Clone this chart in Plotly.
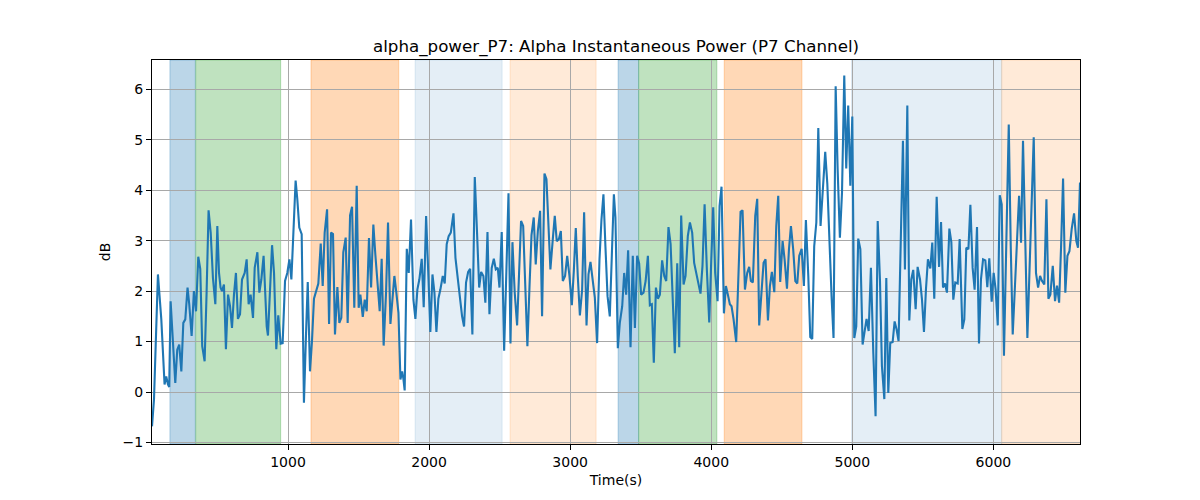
import plotly.graph_objects as go

# Time (s) and alpha power (dB)
time_s = [36, 50, 78, 102, 125, 137, 149, 158, 168, 184, 201, 215, 229, 244, 258, 272, 288, 300, 317, 333,
          348, 364, 378, 392, 409, 423, 437, 452, 468, 485, 499, 511, 522, 532, 546, 560, 575, 589, 603, 617,
          631, 645, 660, 674, 693, 707, 721, 735, 752, 764, 783, 797, 811, 827, 839, 849, 858, 872, 887, 901,
          917, 931, 948, 962, 979, 995, 1010, 1024, 1038, 1054, 1066, 1080, 1097, 1113, 1128, 1140, 1156, 1170, 1184, 1201,
          1215, 1232, 1246, 1260, 1277, 1291, 1305, 1319, 1333, 1350, 1364, 1378, 1392, 1409, 1423, 1440, 1454, 1470, 1487, 1501,
          1513, 1530, 1544, 1558, 1574, 1589, 1605, 1619, 1636, 1650, 1664, 1678, 1695, 1709, 1726, 1740, 1754, 1768, 1783, 1797,
          1809, 1818, 1827, 1842, 1856, 1872, 1889, 1903, 1917, 1931, 1948, 1962, 1979, 1995, 2009, 2024, 2038, 2052, 2066, 2080,
          2097, 2111, 2125, 2139, 2154, 2173, 2187, 2203, 2220, 2234, 2248, 2262, 2277, 2291, 2307, 2324, 2340, 2355, 2369, 2385,
          2399, 2414, 2428, 2444, 2459, 2473, 2487, 2499, 2515, 2532, 2548, 2563, 2577, 2591, 2607, 2624, 2638, 2652, 2667, 2683,
          2697, 2712, 2726, 2742, 2756, 2771, 2787, 2801, 2818, 2832, 2846, 2860, 2877, 2891, 2905, 2920, 2934, 2948, 2964, 2979,
          2995, 3012, 3026, 3040, 3054, 3069, 3085, 3099, 3116, 3130, 3144, 3158, 3175, 3191, 3208, 3222, 3236, 3250, 3265, 3281,
          3295, 3310, 3321, 3338, 3352, 3369, 3383, 3397, 3411, 3428, 3444, 3459, 3475, 3489, 3503, 3520, 3535, 3551, 3565, 3579,
          3593, 3608, 3622, 3636, 3652, 3667, 3681, 3697, 3712, 3726, 3742, 3759, 3773, 3787, 3804, 3818, 3834, 3849, 3865, 3879,
          3894, 3908, 3924, 3938, 3953, 3969, 3986, 4000, 4014, 4028, 4045, 4059, 4073, 4090, 4104, 4118, 4132, 4144, 4158, 4177,
          4192, 4208, 4222, 4239, 4255, 4269, 4281, 4295, 4312, 4326, 4340, 4355, 4371, 4385, 4402, 4416, 4430, 4447, 4461, 4475,
          4489, 4506, 4520, 4537, 4551, 4565, 4581, 4596, 4610, 4624, 4641, 4657, 4671, 4688, 4702, 4716, 4730, 4745, 4759, 4775,
          4792, 4808, 4823, 4838, 4853, 4867, 4882, 4896, 4912, 4927, 4943, 4957, 4971, 4986, 5000, 5014, 5028, 5042, 5057, 5073,
          5087, 5101, 5116, 5132, 5149, 5165, 5180, 5196, 5210, 5227, 5241, 5255, 5269, 5286, 5300, 5314, 5328, 5344, 5359, 5373,
          5390, 5404, 5418, 5432, 5449, 5463, 5480, 5494, 5508, 5522, 5536, 5553, 5567, 5581, 5598, 5615, 5629, 5643, 5657, 5671,
          5688, 5702, 5716, 5730, 5747, 5761, 5780, 5794, 5808, 5823, 5837, 5853, 5867, 5884, 5898, 5912, 5927, 5943, 5957, 5971,
          5988, 6002, 6016, 6031, 6045, 6059, 6075, 6092, 6109, 6123, 6137, 6153, 6168, 6182, 6196, 6210, 6227, 6241, 6256, 6271,
          6286, 6302, 6317, 6331, 6345, 6361, 6376, 6390, 6404, 6421, 6437, 6451, 6466, 6480, 6494, 6510, 6525, 6539, 6555, 6572,
          6588, 6600, 6614]
power_db = [-0.68, -0.15, 2.33, 1.44, 0.15, 0.31, 0.15, 0.10, 1.80, 0.97, 0.18, 0.84, 0.94, 0.41, 1.37, 1.44, 2.07, 1.74, 1.11, 2.00,
            1.60, 2.68, 2.44, 0.91, 0.61, 1.97, 3.60, 3.16, 2.26, 1.74, 3.29, 2.36, 2.07, 2.00, 2.13, 0.85, 1.93, 1.70, 1.27, 1.93,
            2.36, 1.45, 1.54, 2.23, 2.36, 2.63, 1.74, 1.93, 1.47, 2.46, 2.77, 1.97, 2.23, 2.70, 1.90, 1.30, 1.12, 1.97, 2.91, 2.36,
            0.85, 1.52, 0.96, 0.97, 2.20, 2.36, 2.63, 2.23, 3.16, 4.19, 3.82, 3.26, 3.13, -0.21, 1.17, 2.18, 0.41, 1.01, 1.85, 2.00,
            2.15, 2.94, 2.10, 3.16, 3.62, 1.35, 3.16, 3.13, 1.14, 2.08, 1.37, 1.47, 2.77, 3.06, 1.37, 3.50, 3.67, 1.67, 4.09, 1.67,
            1.93, 1.49, 1.83, 1.60, 3.05, 2.07, 3.32, 2.73, 2.10, 1.60, 2.64, 0.92, 1.97, 3.36, 1.35, 1.83, 2.30, 1.97, 1.57, 0.25,
            0.41, 0.26, 0.03, 2.84, 2.36, 3.42, 1.83, 1.45, 2.03, 2.23, 2.64, 1.68, 3.49, 2.30, 1.19, 2.33, 1.97, 1.19, 1.85, 2.03,
            2.30, 2.15, 2.93, 3.09, 3.16, 3.54, 2.66, 2.26, 1.83, 1.50, 1.30, 2.17, 2.38, 2.44, 1.14, 4.26, 3.16, 2.07, 2.38, 2.30,
            1.77, 3.17, 1.54, 2.46, 2.64, 2.43, 2.46, 2.07, 3.17, 0.82, 2.40, 3.94, 0.96, 2.97, 1.97, 1.32, 2.36, 3.39, 3.29, 1.97,
            0.91, 2.10, 3.11, 3.46, 2.53, 3.19, 3.59, 1.50, 4.33, 4.22, 3.16, 2.43, 3.03, 3.49, 2.99, 3.03, 3.19, 2.20, 2.30, 2.70,
            2.30, 1.72, 2.40, 3.25, 2.30, 1.52, 2.03, 3.56, 1.32, 2.33, 2.58, 2.23, 1.87, 0.97, 2.63, 3.42, 3.92, 2.89, 1.90, 1.50,
            2.83, 3.92, 3.46, 0.87, 1.37, 1.70, 2.36, 1.93, 2.81, 0.89, 2.70, 1.27, 2.70, 2.55, 1.93, 1.97, 2.20, 2.70, 1.72, 1.74,
            0.58, 2.07, 1.85, 1.93, 2.61, 2.30, 2.20, 3.27, 2.93, 1.83, 0.77, 2.55, 0.89, 3.50, 2.13, 2.30, 3.09, 3.36, 3.16, 2.56,
            2.36, 2.10, 1.95, 2.50, 3.72, 2.43, 1.38, 2.60, 3.66, 2.36, 1.80, 3.69, 4.07, 1.56, 2.10, 1.93, 1.74, 1.70, 1.45, 0.99,
            2.20, 3.57, 3.60, 2.03, 2.36, 2.48, 2.20, 2.17, 3.49, 3.83, 1.32, 2.00, 2.56, 2.63, 1.42, 2.10, 2.38, 1.98, 3.29, 3.89,
            2.18, 2.99, 2.63, 2.05, 2.83, 3.29, 2.83, 2.20, 2.15, 2.70, 2.84, 2.10, 3.41, 2.30, 1.09, 1.05, 2.89, 3.36, 5.23, 3.29,
            3.95, 4.76, 4.12, 2.90, 1.90, 1.07, 6.06, 4.42, 3.06, 3.95, 6.27, 4.43, 5.68, 4.09, 5.46, 1.07, 1.30, 3.04, 2.83, 0.94,
            1.25, 1.45, 1.21, 2.46, 0.77, -0.48, 3.39, 2.23, 0.51, -0.14, 2.26, -0.02, 0.97, 0.99, 1.40, 1.24, 1.01, 3.00, 4.98, 2.43,
            5.68, 1.42, 2.23, 2.42, 1.64, 2.48, 2.23, 1.83, 1.19, 2.03, 2.63, 2.45, 2.96, 1.85, 3.87, 2.48, 3.37, 2.07, 2.15, 1.97,
            3.24, 2.97, 1.83, 2.17, 2.15, 3.03, 1.25, 1.44, 2.86, 2.83, 3.71, 2.46, 2.03, 3.27, 0.96, 2.23, 2.63, 2.61, 2.08, 2.65,
            1.79, 2.36, 2.03, 1.32, 3.90, 3.72, 0.72, 3.00, 5.30, 2.90, 1.14, 2.10, 2.89, 3.89, 2.96, 4.98, 2.89, 1.07, 2.40, 3.60,
            5.05, 2.36, 2.07, 2.30, 2.20, 2.13, 3.82, 1.85, 1.93, 2.50, 1.80, 2.11, 1.77, 2.90, 4.23, 1.97, 2.70, 2.79, 3.23, 3.54,
            2.99, 2.86, 4.15]

# Shaded intervals (start, end, colour)
span_starts = [163, 346, 1163, 1901, 2574, 3340, 3486, 4092, 4995, 6059]
span_ends = [343, 948, 1785, 2518, 3184, 3485, 4040, 4643, 6059, 6640]
span_colors = ["rgba(31,119,180,0.3)", "rgba(44,160,44,0.3)", "rgba(255,127,14,0.3)",
               "rgba(31,119,180,0.12)", "rgba(255,127,14,0.16)",
               "rgba(31,119,180,0.3)", "rgba(44,160,44,0.3)", "rgba(255,127,14,0.3)",
               "rgba(31,119,180,0.12)", "rgba(255,127,14,0.16)"]

x_ticks = [1000, 2000, 3000, 4000, 5000, 6000]
y_ticks = [-1, 0, 1, 2, 3, 4, 5, 6]

fig = go.Figure()
for s, e, c in zip(span_starts, span_ends, span_colors):
    fig.add_vrect(x0=s, x1=e, fillcolor=c, line=dict(color=c, width=1), layer="below")

fig.add_trace(go.Scatter(x=time_s, y=power_db, mode="lines",
                         line=dict(color="#1f77b4", width=2.1), showlegend=False))

font_family = "DejaVu Sans"
fig.update_layout(
    width=1200, height=500,
    margin=dict(l=152, r=120, t=60, b=56),
    paper_bgcolor="white", plot_bgcolor="white",
    font=dict(family=font_family, size=14, color="black"),
    title=dict(text="alpha_power_P7: Alpha Instantaneous Power (P7 Channel)",
               x=(152 + 1080) / 2 / 1200, xanchor="center", y=1 - 46 / 500, yanchor="middle",
               font=dict(size=16.7, family=font_family, color="black")),
)
fig.update_xaxes(range=[36, 6614], tickvals=x_ticks, ticks="outside", ticklen=5, tickcolor="black",
                 showgrid=True, gridcolor="#a8a8a8", gridwidth=1.1, zeroline=False,
                 showline=True, linecolor="black", linewidth=1.1, mirror=True,
                 title=dict(text="Time(s)", font=dict(size=14), standoff=6),
                 tickfont=dict(size=14))
fig.update_yaxes(range=[-1.03, 6.58], tickvals=y_ticks, ticks="outside", ticklen=5, tickcolor="black",
                 showgrid=True, gridcolor="#a8a8a8", gridwidth=1.1, zeroline=False,
                 showline=True, linecolor="black", linewidth=1.1, mirror=True,
                 title=dict(text="dB", font=dict(size=14), standoff=8),
                 tickfont=dict(size=14))

fig.write_html("out.html")
